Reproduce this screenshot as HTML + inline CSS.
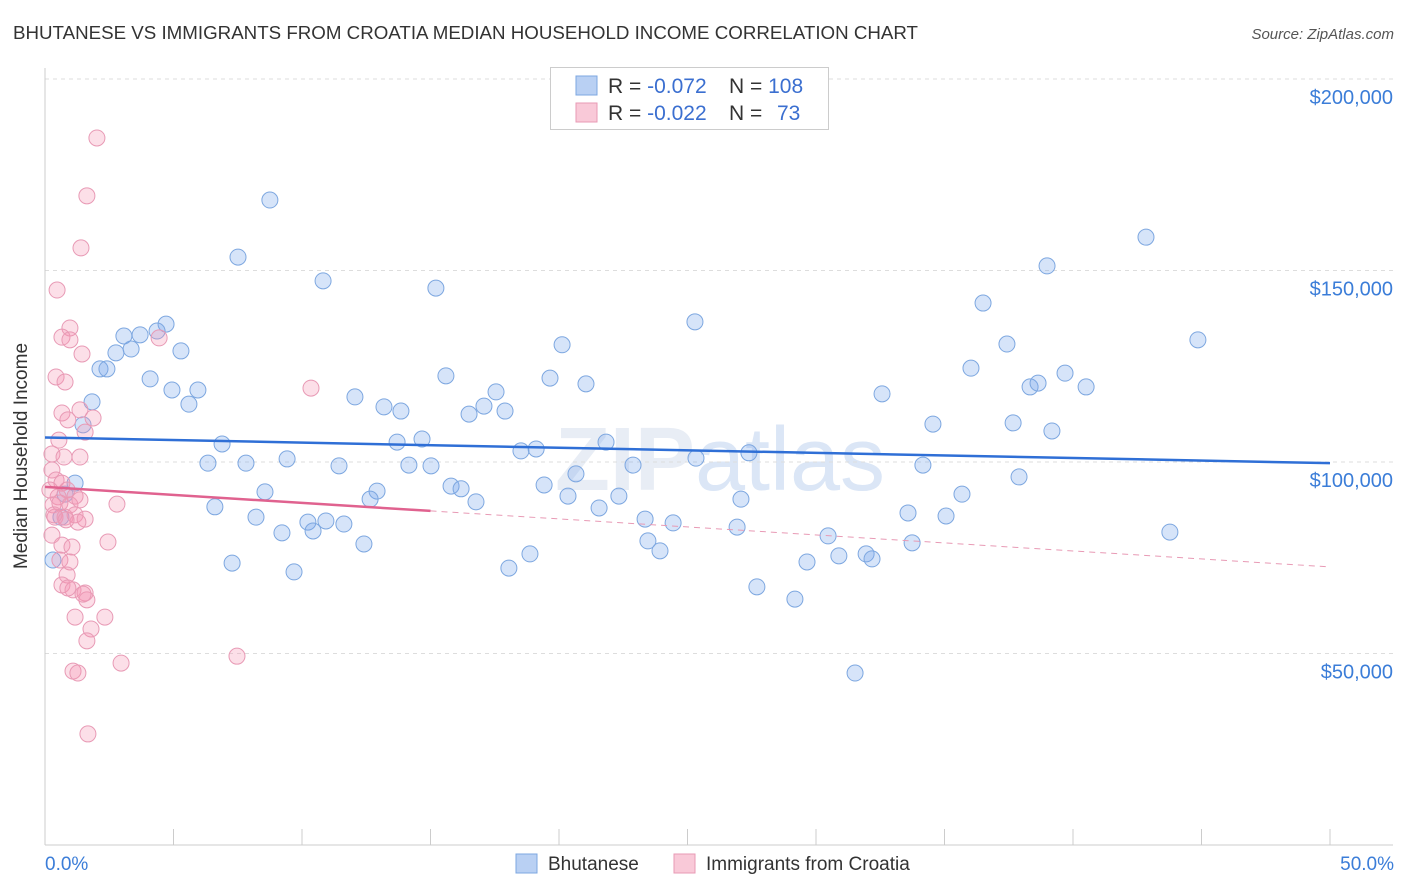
<!DOCTYPE html>
<html><head><meta charset="utf-8"><style>
body{margin:0;background:#fff;font-family:"Liberation Sans",sans-serif;}
svg{display:block}
</style></head><body>
<svg id="chart" width="1406" height="892">
<text x="13" y="39" font-size="18" fill="#333" textLength="905" lengthAdjust="spacingAndGlyphs">BHUTANESE VS IMMIGRANTS FROM CROATIA MEDIAN HOUSEHOLD INCOME CORRELATION CHART</text>
<text x="1394" y="39" font-size="15" fill="#555" font-style="italic" text-anchor="end">Source: ZipAtlas.com</text>
<text x="720" y="490" font-size="90" fill="#e8edf5" text-anchor="middle" font-weight="bold">ZIP<tspan font-weight="normal" fill="#dbe6f6">atlas</tspan></text>
<g id="grid"></g>
<g id="axes"></g>
<g id="pts"></g>
<g id="lines"></g>
<text x="27" y="456" font-size="19" fill="#333" text-anchor="middle" transform="rotate(-90 27 456)">Median Household Income</text>
<text x="45" y="870" font-size="19" fill="#3b7dd8">0.0%</text>
<text x="1394" y="870" font-size="19" fill="#3b7dd8" text-anchor="end">50.0%</text>
<g>
<rect x="550.5" y="67.5" width="278" height="62" fill="#fff" stroke="#ccc"/>
<rect x="576" y="76" width="21" height="19" fill="#b9d0f3" stroke="#7da7e0"/>
<rect x="576" y="103" width="21" height="19" fill="#f9c9d8" stroke="#e89ab5"/>
<text x="608" y="93" font-size="21" fill="#333">R = <tspan fill="#3b6fd0">-0.072</tspan><tspan x="729">N = </tspan><tspan fill="#3b6fd0">108</tspan></text>
<text x="608" y="120" font-size="21" fill="#333">R = <tspan fill="#3b6fd0">-0.022</tspan><tspan x="729">N = </tspan><tspan fill="#3b6fd0" x="777">73</tspan></text>
</g>
<g>
<rect x="516" y="854" width="21" height="19" fill="#b9d0f3" stroke="#7da7e0"/>
<text x="548" y="870" font-size="19" fill="#333">Bhutanese</text>
<rect x="674" y="854" width="21" height="19" fill="#f9c9d8" stroke="#e89ab5"/>
<text x="706" y="870" font-size="19" fill="#333">Immigrants from Croatia</text>
</g>
</svg>
<script>
const yTicks=[50000,100000,150000,200000];
const yTickLabels=["$50,000","$100,000","$150,000","$200,000"];
const blueX=[8.75,7.51,10.82,15.21,4.71,4.36,3.07,3.70,2.76,3.35,5.29,2.14,2.41,4.09,4.94,5.95,5.60,1.83,1.48,6.89,6.34,7.82,9.42,11.44,12.06,13.19,13.85,13.70,14.67,14.16,15.02,15.60,16.50,17.08,17.55,17.90,18.52,19.11,19.65,20.12,21.05,21.83,20.66,22.88,25.29,25.33,27.39,27.08,19.42,20.35,21.56,22.33,15.80,16.19,16.77,12.92,12.65,8.56,6.61,8.21,9.22,10.23,10.93,10.43,11.63,12.41,7.28,9.69,18.05,18.87,23.35,23.46,23.93,24.44,26.93,27.70,29.18,29.65,30.47,30.89,31.95,32.18,31.52,32.57,33.58,33.74,34.16,34.55,35.06,35.68,36.03,36.50,37.43,37.67,37.90,38.33,38.64,38.99,39.18,39.69,40.51,42.84,43.77,44.86,0.62,1.17,0.31,0.78];
const blueY=[168.4,153.5,147.3,145.4,136.0,134.2,132.9,133.2,128.5,129.5,129.0,124.3,124.3,121.7,118.8,118.8,115.1,115.7,109.7,104.7,99.7,99.7,100.8,99.0,117.0,114.4,113.3,105.2,106.0,99.2,99.0,122.5,112.5,114.6,118.3,113.3,102.9,103.4,121.9,130.6,120.4,105.2,96.9,99.2,136.6,101.0,102.4,90.3,94.0,91.1,88.0,91.1,93.7,93.0,89.6,92.4,90.3,92.2,88.3,85.6,81.5,84.3,84.6,82.0,83.8,78.6,73.6,71.3,72.3,76.0,85.1,79.4,76.8,84.1,83.0,67.4,64.2,73.9,80.7,75.5,76.0,74.7,44.9,117.8,86.7,78.9,99.2,109.9,85.9,91.6,124.5,141.5,130.8,110.2,96.1,119.6,120.6,151.2,108.1,123.2,119.6,158.7,81.7,131.9,85.6,94.5,74.4,91.6];
const pinkX=[2.02,1.63,1.40,0.47,0.97,0.66,0.97,1.44,4.44,0.43,0.78,10.35,0.66,1.36,0.89,1.87,1.56,0.54,1.36,0.27,0.74,0.27,0.43,0.66,0.86,1.17,0.51,0.31,0.58,0.97,1.36,0.39,0.78,1.17,1.56,1.28,2.80,2.45,0.27,0.66,1.05,0.58,0.97,0.86,0.66,1.09,1.56,1.63,1.48,1.17,2.33,1.79,1.63,2.96,7.47,1.09,1.28,1.67,0.89,0.19,0.35,0.82];
const pinkY=[184.6,169.5,155.9,144.9,135.0,132.6,131.9,128.2,132.4,122.2,120.9,119.3,112.8,113.6,111.0,111.5,107.8,105.7,101.3,102.1,101.3,97.9,95.3,94.5,92.7,91.1,90.9,88.8,89.3,88.8,90.1,85.6,85.6,86.2,85.1,84.3,89.0,79.1,80.9,78.3,77.8,74.4,73.9,70.5,67.9,66.6,65.8,64.0,65.5,59.5,59.5,56.4,53.3,47.5,49.3,45.4,44.9,29.0,67.1,92.7,86.2,84.9];
const blueTrend=[106.4,99.7];
const pinkTrend=[93.5,72.6];
const pinkSolidEnd=15;

const NS="http://www.w3.org/2000/svg";
const X0=45,X1=1330,Y0=845,PX_PER_K=191.5/50;
const sx=p=>X0+(X1-X0)*p/50;
const sy=v=>Y0-(v/1000)*PX_PER_K;
function mk(tag,attrs,parent){const e=document.createElementNS(NS,tag);for(const k in attrs)e.setAttribute(k,attrs[k]);parent.appendChild(e);return e;}
const grid=document.getElementById('grid'),axes=document.getElementById('axes'),pts=document.getElementById('pts'),lines=document.getElementById('lines');
yTicks.forEach((t,i)=>{
  const l=mk('line',{x1:X0,x2:1393,y1:sy(t),y2:sy(t),stroke:'#ddd','stroke-dasharray':'4,4'},grid);
  
  
  const tx=mk('text',{x:1393,y:sy(t)+25,'font-size':20,fill:'#3b7dd8','text-anchor':'end'},grid);
  tx.textContent=yTickLabels[i];
  
  
});
const ya=mk('line',{x1:X0,x2:X0,y1:68,y2:Y0,stroke:'#ccc'},axes);


const xa=mk('line',{x1:X0,x2:1393,y1:Y0,y2:Y0,stroke:'#ccc'},axes);


for(let i=0;i<=10;i++){
  const t=mk('line',{x1:sx(i*5),x2:sx(i*5),y1:829,y2:Y0,stroke:'#ccc'},axes);
  
  
}
function dots(xs,ys,fill,stroke,name){
  xs.forEach((x,i)=>{
    const c=mk('circle',{cx:sx(x),cy:sy(ys[i]*1000),r:8,fill:fill,stroke:stroke,'stroke-width':1},pts);
    
    
  });
}
dots(blueX,blueY,'rgba(120,165,235,0.3)','#7da7e0','bhutanese-point');
dots(pinkX,pinkY,'rgba(245,150,180,0.3)','#e89ab5','croatia-point');
const bl=mk('line',{x1:sx(0),x2:sx(50),y1:sy(blueTrend[0]*1000),y2:sy(blueTrend[1]*1000),stroke:'#2f6fd6','stroke-width':2.5},lines);


const pAt=p=>pinkTrend[0]+(pinkTrend[1]-pinkTrend[0])*p/50;
const pl=mk('line',{x1:sx(0),x2:sx(pinkSolidEnd),y1:sy(pinkTrend[0]*1000),y2:sy(pAt(pinkSolidEnd)*1000),stroke:'#e0628f','stroke-width':2.5},lines);


const pd=mk('line',{x1:sx(pinkSolidEnd),x2:sx(50),y1:sy(pAt(pinkSolidEnd)*1000),y2:sy(pinkTrend[1]*1000),stroke:'#e89ab5','stroke-width':1,'stroke-dasharray':'6,5'},lines);


</script>
</body></html>
